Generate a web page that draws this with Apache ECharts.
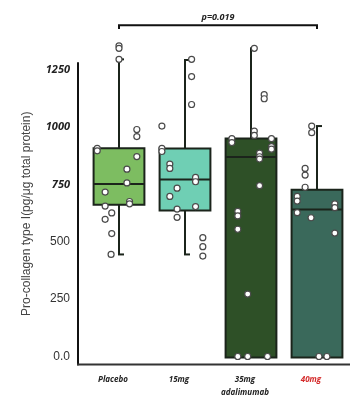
<!DOCTYPE html>
<html><head><meta charset="utf-8">
<script src="https://cdn.jsdelivr.net/npm/echarts@6/dist/echarts.min.js"></script>
<style>html,body{margin:0;padding:0;background:#fff}#c{width:353px;height:397px}</style>
</head><body><div id="c"></div>
<script>
const categories = ['Placebo', '15mg', '35mg\nadalimumab', '40mg'];
const boxMin    = [445, 445, 0, 0];
const boxQ1     = [666, 641, 0, 0];
const boxMedian = [752, 772, 870, 641];
const boxQ3     = [908, 907, 951, 727];
const boxMax    = [1296, 1293, 1344, 1005];
const boxColors = ['#7dbd61', '#6fcfb4', '#2e5027', '#3a695b'];
const yTicks = [0, 250, 500, 750, 1000, 1250];

const placeboVals = [1355, 1344, 1296, 990, 959, 908, 897, 872, 817, 757, 717, 676, 666, 656, 626, 598, 536, 445];
const placeboJit  = [0, 0, 0, 0.27, 0.27, -0.33, -0.33, 0.27, 0.12, 0.12, -0.21, 0.16, 0.16, -0.21, -0.11, -0.21, -0.11, -0.12];
const mg15Vals = [1296, 1221, 1099, 1005, 908, 894, 839, 820, 781, 762, 734, 698, 654, 643, 607, 518, 479, 438];
const mg15Jit  = [0.1, 0.1, 0.1, -0.35, -0.35, -0.35, -0.23, -0.23, 0.16, 0.16, -0.12, -0.23, 0.16, -0.12, -0.12, 0.27, 0.27, 0.27];
const mg35Vals = [1344, 1142, 1124, 983, 964, 950, 933, 950, 915, 904, 887, 871, 861, 745, 633, 613, 555, 272, 0, 0, 0];
const mg35Jit  = [0.05, 0.2, 0.2, 0.05, 0.05, -0.29, -0.29, 0.31, 0.31, 0.31, 0.13, 0.13, 0.13, 0.13, -0.2, -0.2, -0.2, -0.05, -0.2, -0.05, 0.25];
const mg40Vals = [1005, 976, 820, 791, 738, 698, 678, 627, 605, 666, 649, 538, 0, 0];
const mg40Jit  = [-0.08, -0.08, -0.18, -0.18, -0.18, -0.3, -0.3, -0.3, -0.09, 0.27, 0.27, 0.27, 0.03, 0.15];

const pValueText = 'p=0.019';
const bracketFrom = 0, bracketTo = 3;
const bracketY = 1445, bracketTickY = 1428;

const groups = [[placeboVals, placeboJit], [mg15Vals, mg15Jit], [mg35Vals, mg35Jit], [mg40Vals, mg40Jit]];
const pts = [];
groups.forEach(([v, j], g) => v.forEach((val, i) => pts.push([g + j[i], val])));
const boxData = categories.map((c, i) => [i, boxMin[i], boxQ1[i], boxMedian[i], boxQ3[i], boxMax[i]]);

const chart = echarts.init(document.getElementById('c'));
const dark = '#1b241b';
const yMin = -35, yMax = 1280, yOffset = 8;
chart.setOption({
  backgroundColor: '#fff',
  animation: false,
  grid: { left: 86, right: 3, top: 63, bottom: 30 },
  xAxis: [{
    type: 'category', data: categories,
    axisLine: { show: false, onZero: false },
    axisTick: { show: false },
    axisLabel: {
      interval: 0, margin: 9, padding: [0, 12, 0, 0],
      formatter: (v, i) => v.split('\n').map(s => (i === 3 ? '{r|' : '{n|') + s + '}').join('\n'),
      rich: {
        n: { fontFamily: 'Open Sans', fontStyle: 'italic', fontWeight: 'bold', fontSize: 8, color: '#222', lineHeight: 13 },
        r: { fontFamily: 'Open Sans', fontStyle: 'italic', fontWeight: 'bold', fontSize: 8, color: '#d42a2a', lineHeight: 13 }
      }
    }
  }, {
    type: 'value', min: -0.5, max: 3.5, show: false,
    axisLine: { show: false, onZero: false }, splitLine: { show: false }
  }],
  yAxis: {
    type: 'value', min: yMin, max: yMax, offset: yOffset,
    name: 'Pro-collagen type I(pg/μg total protein)',
    nameLocation: 'middle', nameRotate: 90, nameGap: 45,
    nameTextStyle: { fontFamily: 'Liberation Sans', fontSize: 12, color: '#444' },
    axisLine: { show: true, onZero: false, lineStyle: { color: '#111', width: 2 } },
    axisTick: { show: false },
    splitLine: { show: false },
    axisLabel: {
      customValues: yTicks, margin: 8,
      formatter: v => v === 0 ? '{n|0.0}' : (v >= 750 ? '{b|' + v + '}' : '{n|' + v + '}'),
      rich: {
        n: { fontFamily: 'Liberation Sans', fontSize: 12, color: '#333' },
        b: { fontFamily: 'Open Sans', fontStyle: 'italic', fontWeight: 'bold', fontSize: 11, color: '#222' }
      }
    }
  },
  series: [{
    type: 'custom', xAxisIndex: 1, data: boxData, z: 2,
    renderItem: (params, api) => {
      const x = api.value(0);
      const hw = api.size([1, 0])[0] * 0.385;
      const pMin = api.coord([x, api.value(1)]);
      const pQ1 = api.coord([x, api.value(2)]);
      const pMed = api.coord([x, api.value(3)]);
      const pQ3 = api.coord([x, api.value(4)]);
      const pMax = api.coord([x, api.value(5)]);
      const ls = { stroke: dark, lineWidth: 2 };
      const ch = [];
      if (api.value(5) > api.value(4)) {
        ch.push({ type: 'line', shape: { x1: pQ3[0], y1: pQ3[1], x2: pMax[0], y2: pMax[1] }, style: ls });
        ch.push({ type: 'line', shape: { x1: pMax[0] - 1, y1: pMax[1], x2: pMax[0] + 5, y2: pMax[1] }, style: ls });
      }
      if (api.value(1) < api.value(2)) {
        ch.push({ type: 'line', shape: { x1: pQ1[0], y1: pQ1[1], x2: pMin[0], y2: pMin[1] }, style: ls });
        ch.push({ type: 'line', shape: { x1: pMin[0] - 1, y1: pMin[1], x2: pMin[0] + 5, y2: pMin[1] }, style: ls });
      }
      ch.push({ type: 'rect', shape: { x: pQ3[0] - hw, y: pQ3[1], width: 2 * hw, height: pQ1[1] - pQ3[1] + 1 },
        style: { fill: boxColors[params.dataIndex], stroke: dark, lineWidth: 2 } });
      ch.push({ type: 'line', shape: { x1: pMed[0] - hw, y1: pMed[1], x2: pMed[0] + hw, y2: pMed[1] }, style: ls });
      return { type: 'group', children: ch };
    }
  }, {
    type: 'scatter', xAxisIndex: 1, data: pts, z: 5, clip: false,
    symbol: 'circle', symbolSize: 6,
    itemStyle: { color: '#fff', borderColor: '#4a4a4a', borderWidth: 1.2, opacity: 1 }
  }]
});

// Annotation bracket and bottom axis line, positioned through the chart's own scales
const toPx = (x, y) => chart.convertToPixel({ xAxisIndex: 1, yAxisIndex: 0 }, [x, y]);
const bL = toPx(bracketFrom, bracketY), bR = toPx(bracketTo, bracketY);
const tL = toPx(bracketFrom, bracketTickY), tR = toPx(bracketTo, bracketTickY);
const axL = toPx(-0.5, yMin), axR = toPx(3.5, yMin);
chart.setOption({
  graphic: [
    { type: 'polyline', shape: { points: [tL, bL, bR, tR] }, style: { stroke: '#111', lineWidth: 2, fill: null }, z: 10 },
    { type: 'text', x: (bL[0] + bR[0]) / 2, y: bL[1] - 3,
      style: { text: pValueText, fontFamily: 'Open Sans', fontStyle: 'italic', fontWeight: 'bold', fontSize: 9, fill: '#222',
        textAlign: 'center', textVerticalAlign: 'bottom' }, z: 10 },
    { type: 'line', shape: { x1: axL[0] - yOffset - 1, y1: axL[1], x2: axR[0], y2: axR[1] }, style: { stroke: '#333', lineWidth: 2 }, z: 10 }
  ]
});
</script></body></html>
